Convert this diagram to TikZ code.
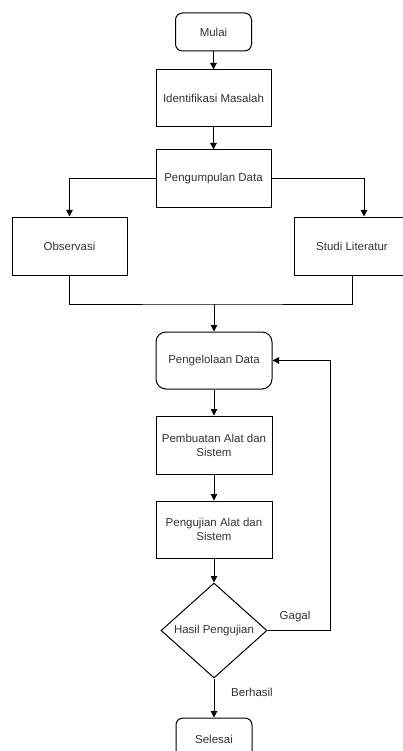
\documentclass[tikz,border=0pt]{standalone}
\usepackage{fontspec}
\setmainfont{Liberation Sans}
\usetikzlibrary{shapes.geometric,arrows.meta}
\definecolor{txt}{HTML}{333333}
\begin{document}
\begin{tikzpicture}[x=1pt,y=-1pt,
  every node/.style={font=\fontsize{11.5}{14}\selectfont, text=txt},
  box/.style={draw, line width=1pt, minimum width=115pt, minimum height=57pt, inner sep=2pt, align=center},
  term/.style={draw, line width=1pt, rounded corners=7pt, minimum width=76pt, minimum height=38pt},
  rbox/.style={box, rounded corners=10pt},
  decision/.style={draw, line width=1pt, diamond, minimum width=106pt, minimum height=95pt, inner sep=0pt, aspect=1.1},
  conn/.style={line width=1pt},
  arr/.style={conn, -{Triangle[length=6.5pt,width=6.5pt]}},
  lbl/.style={inner sep=0pt}
]
\useasboundingbox (0,0) rectangle (403,751);
\clip (0,0) rectangle (403,751);

\node[term] (mulai) at (213.5,32) {Mulai};
\node[box] (ident) at (213.5,98.5) {Identifikasi Masalah};
\node[box, minimum height=58pt] (pengum) at (213.5,179) {Pengumpulan Data};
\node[box, minimum height=58pt] (obs) at (69.5,246) {Observasi};
\node[box, minimum height=58pt, minimum width=116pt] (studi) at (352,246) {Studi Literatur};
\node[rbox, minimum width=116pt] (pengel) at (214,360.5) {Pengelolaan Data};
\node[box, minimum width=116pt, minimum height=58pt] (pemb) at (214,445) {Pembuatan Alat dan\\Sistem};
\node[box, minimum width=116pt] (penguj) at (214,529.5) {Pengujian Alat dan\\Sistem};
\node[decision] (hasil) at (214,630.5) {Hasil Pengujian};
\node[term, minimum height=42pt] (selesai) at (214,739) {Selesai};

\coordinate (m) at (214,304);
\coordinate (g) at (330,630.5);

\draw[arr] (mulai) -- (ident);
\draw[arr] (ident) -- (pengum);
\draw[arr] (pengum.west) -| (obs.north);
\draw[arr] (pengum.east) -| ([xshift=12pt]studi.north);
\draw[conn] (obs.south) |- (m) -| (studi.south);
\draw[arr] (m) -- (pengel.north);
\draw[arr] (pengel) -- (pemb);
\draw[arr] (pemb) -- (penguj);
\draw[arr] (penguj) -- (hasil.north);
\draw[conn] (hasil.east) -- (g);
\draw[arr] (g) |- (pengel.east);
\draw[arr] (hasil.south) -- (selesai.north);

\node[lbl] (gagal) at (295,617) {Gagal};
\node[lbl] (berhasil) at (252,692) {Berhasil};
\end{tikzpicture}
\end{document}
